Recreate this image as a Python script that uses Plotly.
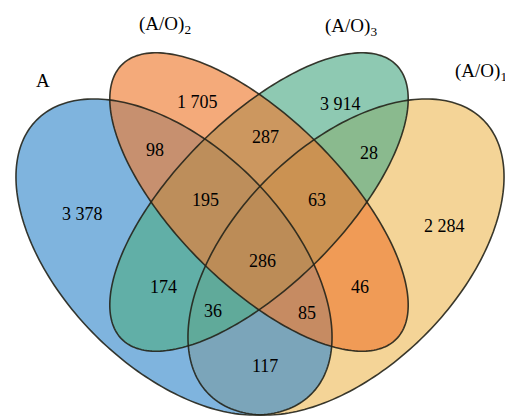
import numpy as np
import plotly.graph_objects as go

# Region counts of the four-set Venn diagram
set_names = ["A", "(A/O)<sub>2</sub>", "(A/O)<sub>3</sub>", "(A/O)<sub>1</sub>"]
region_keys = ["A", "B", "C", "D", "AB", "CD", "BC", "AD", "AC", "BD",
               "ABC", "BCD", "ACD", "ABD", "ABCD"]
region_counts = [3378, 1705, 3914, 2284, 98, 28, 287, 117, 174, 46,
                 195, 63, 36, 85, 286]

W, H = 505, 418

# Ellipse geometry (pixel space, y downward): cx, cy, semi-major, semi-minor, angle in degrees
ellipses = {
    "A": (174, 257, 194, 111, 45),
    "B": (259, 202, 194, 83, 45),
    "C": (259, 202, 194, 83, -45),
    "D": (346, 257, 194, 111, -45),
}
fills = {
    "A": "rgba(58,140,204,0.65)",
    "B": "rgba(238,124,50,0.65)",
    "C": "rgba(81,172,137,0.65)",
    "D": "rgba(238,189,96,0.65)",
}
draw_order = ["D", "A", "C", "B"]

# Label anchor positions for each region
label_pos = {
    "A": (82, 214), "B": (197, 102), "C": (340, 104), "D": (444, 226),
    "AB": (155, 150), "CD": (369, 153), "BC": (265, 137), "AD": (265, 366),
    "AC": (163, 287), "BD": (360, 287), "ABC": (205, 200), "BCD": (317, 200),
    "ACD": (213, 311), "ABD": (307, 313), "ABCD": (262, 261),
}
name_pos = [(43, 80, "center"), (137, 25, "left"), (323, 27, "left"), (453, 72, "left")]


def ellipse_path(cx, cy, a, b, ang, n=240):
    t = np.linspace(0, 2 * np.pi, n, endpoint=False)
    th = np.deg2rad(ang)
    x = cx + a * np.cos(t) * np.cos(th) - b * np.sin(t) * np.sin(th)
    y = cy + a * np.cos(t) * np.sin(th) + b * np.sin(t) * np.cos(th)
    pts = " L ".join(f"{xi:.2f},{yi:.2f}" for xi, yi in zip(x, y))
    return f"M {pts} Z"


shapes = []
for k in draw_order:
    shapes.append(dict(type="path", path=ellipse_path(*ellipses[k]),
                       fillcolor=fills[k], line=dict(width=0), layer="above"))
for k in draw_order:
    shapes.append(dict(type="path", path=ellipse_path(*ellipses[k]),
                       fillcolor="rgba(0,0,0,0)",
                       line=dict(color="rgba(35,35,25,0.9)", width=1.6), layer="above"))

annotations = []
for key, val in zip(region_keys, region_counts):
    x, y = label_pos[key]
    annotations.append(dict(x=x, y=y, text=f"{val:,}".replace(",", " "),
                            showarrow=False, xanchor="center", yanchor="middle",
                            font=dict(family="Liberation Serif", size=18, color="black")))
for (x, y, anchor), name in zip(name_pos, set_names):
    annotations.append(dict(x=x, y=y, text=name, showarrow=False,
                            xanchor=anchor, yanchor="middle",
                            font=dict(family="Liberation Serif", size=19, color="black")))

fig = go.Figure()
fig.update_layout(
    width=W, height=H, margin=dict(l=0, r=0, t=0, b=0),
    paper_bgcolor="white", plot_bgcolor="white",
    xaxis=dict(range=[0, W], visible=False, fixedrange=True),
    yaxis=dict(range=[H, 0], visible=False, fixedrange=True),
    shapes=shapes, annotations=annotations, showlegend=False,
)
fig.write_html("out.html")
